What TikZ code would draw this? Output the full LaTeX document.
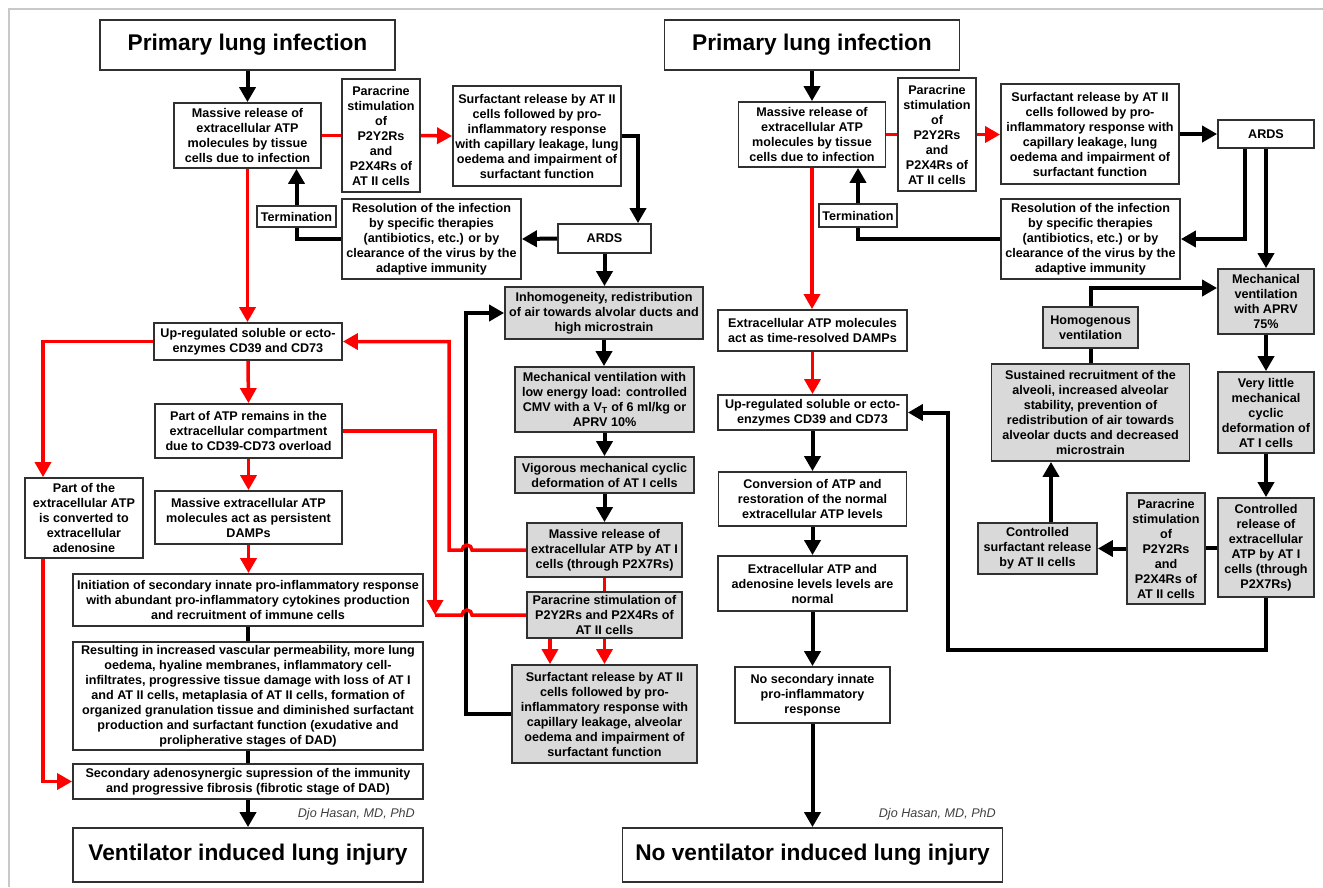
\documentclass[tikz,border=0pt]{standalone}
\usepackage{fontspec}
\setmainfont{Liberation Sans}
\usetikzlibrary{arrows.meta}
\definecolor{boxc}{HTML}{303030}
\definecolor{grayfill}{HTML}{D9D9D9}
\definecolor{framec}{HTML}{C8C8C8}
\definecolor{sigc}{HTML}{404040}
\newcommand\myBody{\fontsize{12.6}{15}\selectfont\bfseries}
\newcommand\myTitle{\fontsize{22.7}{26}\selectfont\bfseries}
\newcommand\mySig{\fontsize{12.6}{15}\selectfont\itshape}
\tikzset{
  box/.style={draw=boxc, line width=1.8pt, fill=white, align=center, inner sep=0pt, font=\myBody},
  gbox/.style={box, fill=grayfill},
  tbox/.style={box, font=\myTitle},
  arr/.style={draw=black, line width=4pt, -{Triangle[length=15pt,width=16pt]}},
  ln/.style={draw=black, line width=4pt},
  rarr/.style={draw=red, line width=3.5pt, -{Triangle[length=15pt,width=16pt]}},
  rln/.style={draw=red, line width=3.5pt},
  sig/.style={font=\mySig, text=sigc, anchor=east, inner sep=0pt}
}
\begin{document}
\begin{tikzpicture}[x=1pt,y=-1pt]
\useasboundingbox (0,0) rectangle (1323,887);
\fill[white] (0,0) rectangle (1323,887);
\draw[framec, line width=2pt] (9,887) -- (9,9) -- (1323,9);

% ---------------- left side ----------------
\node[tbox, minimum width=295pt, minimum height=50pt] (Ltitle) at (247.5,45) {Primary lung infection};
\node[box, minimum width=147pt, minimum height=65pt] (Lmass) at (247.5,135.5) {Massive release of\\extracellular ATP\\molecules by tissue\\cells due to infection};
\node[box, minimum width=78pt, minimum height=113pt] (Lpara) at (381,135.5) {Paracrine\\stimulation\\of\\P2Y2Rs\\and\\P2X4Rs of\\AT II cells};
\node[box, minimum width=168pt, minimum height=100pt] (Lsurf) at (537,136) {Surfactant release by AT II\\cells followed by pro-\\inflammatory response\\with capillary leakage, lung\\oedema and impairment of\\surfactant function};
\node[box, minimum width=93pt, minimum height=29pt] (Lards) at (604.5,238.5) {ARDS};
\node[box, minimum width=179pt, minimum height=80pt] (Lres) at (431.5,239) {Resolution of the infection\\by specific therapies\\(antibiotics, etc.) or by\\clearance of the virus by the\\adaptive immunity};
\node[box, minimum width=79pt, minimum height=21pt] (Lterm) at (296.5,216.5) {Termination};
\node[box, minimum width=188pt, minimum height=37pt] (Lup) at (248,341.5) {Up-regulated soluble or ecto-\\enzymes CD39 and CD73};
\node[box, minimum width=187pt, minimum height=54pt] (Lpart) at (248.5,431) {Part of ATP remains in the\\extracellular compartment\\due to CD39-CD73 overload};
\node[box, minimum width=118pt, minimum height=80pt] (Lconv) at (84,518) {Part of the\\extracellular ATP\\is converted to\\extracellular\\adenosine};
\node[box, minimum width=187pt, minimum height=53pt] (Ldamp) at (248.5,517.5) {Massive extracellular ATP\\molecules act as persistent\\DAMPs};
\node[box, minimum width=350pt, minimum height=52pt] (Linit) at (248,600) {Initiation of secondary innate pro-inflammatory response\\with abundant pro-inflammatory cytokines production\\and recruitment of immune cells};
\node[box, minimum width=350pt, minimum height=108pt] (Lresu) at (248,696) {Resulting in increased vascular permeability, more lung\\oedema, hyaline membranes, inflammatory cell-\\infiltrates, progressive tissue damage with loss of AT I\\and AT II cells, metaplasia of AT II cells, formation of\\organized granulation tissue and diminished surfactant\\production and surfactant function (exudative and\\prolipherative stages of DAD)};
\node[box, minimum width=350pt, minimum height=35pt] (Lsec) at (248,781.5) {Secondary adenosynergic supression of the immunity\\and progressive fibrosis (fibrotic stage of DAD)};
\node[tbox, minimum width=350pt, minimum height=54pt] (Lvili) at (248,855) {Ventilator induced lung injury};
\node[sig] (Lsig) at (415,814) {Djo Hasan, MD, PhD};

% grey column
\node[gbox, minimum width=198pt, minimum height=52pt] (Ginh) at (604,313) {Inhomogeneity, redistribution\\of air towards alvolar ducts and\\high microstrain};
\node[gbox, minimum width=179pt, minimum height=65pt] (Gmech) at (604.5,399.5) {Mechanical ventilation with\\low energy load: controlled\\CMV with a V\textsubscript{T} of 6 ml/kg or\\APRV 10\%};
\node[gbox, minimum width=179pt, minimum height=36pt] (Gvig) at (604.5,475) {Vigorous mechanical cyclic\\deformation of AT I cells};
\node[gbox, minimum width=155pt, minimum height=54pt] (Gmass) at (604.5,550) {Massive release of\\extracellular ATP by AT I\\cells (through P2X7Rs)};
\node[gbox, minimum width=155pt, minimum height=46pt] (Gpara) at (604.5,615) {Paracrine stimulation of\\P2Y2Rs and P2X4Rs of\\AT II cells};
\node[gbox, minimum width=185pt, minimum height=98pt] (Gsurf) at (604.5,714) {Surfactant release by AT II\\cells followed by pro-\\inflammatory response with\\capillary leakage, alveolar\\oedema and impairment of\\surfactant function};

% left connectors
\draw[arr] (Ltitle.south) -- (Lmass.north);
\draw[rln] (Lmass.east) -- (Lpara.west);
\draw[rarr] (Lpara.east) -- (Lsurf.west);
\draw[arr] (Lsurf.east) -| ([xshift=33.5pt]Lards.north);
\draw[arr] (Lards.west) -- (Lres.east);
\draw[ln] (Lres.west) -| (Lterm.south);
\draw[arr] (Lterm.north) -- (Lterm.north |- Lmass.south);
\draw[arr] (Lards.south) -- (Lards.south |- Ginh.north);
\draw[arr] (Ginh.south) -- (Ginh.south |- Gmech.north);
\draw[arr] (Gmech.south) -- (Gvig.north);
\draw[arr] (Gvig.south) -- (Gmass.north);
\draw[arr] (Gsurf.west) -- ++(-45,0) |- (Ginh.west);
\draw[rln] (Gmass.south) -- (Gpara.north);
\draw[rarr] ([xshift=-54.5pt]Gpara.south) -- ([xshift=-54.5pt]Gsurf.north);
\draw[rarr] (Gpara.south) -- (Gsurf.north);
\draw[rarr] (Lmass.south) -- (Lmass.south |- Lup.north);
\draw[rarr] (Lup.west) -| ([xshift=-41pt]Lconv.north);
\draw[rarr] ([xshift=-41pt]Lconv.south) |- (Lsec.west);
\draw[rarr] (Lup.south) -- (Lpart.north);
\draw[rarr] (Lpart.south) -- (Ldamp.north);
\draw[rarr] (Ldamp.south) -- (Ldamp.south |- Linit.north);
\draw[ln] (Linit.south) -- (Lresu.north);
\draw[ln] (Lresu.south) -- (Lsec.north);
\draw[arr] (Lsec.south) -- (Lvili.north);
\draw[rarr] (Gmass.west) -- (472,550) arc[start angle=0,end angle=180,radius=5pt] -- (449,550) |- (Lup.east);
\draw[rln] (Gpara.west) -- (472,615) arc[start angle=0,end angle=180,radius=5pt] -- (435,615);
\coordinate (Ljoin) at (435,615);
\draw[rarr] (Lpart.east) -| (Ljoin);

% ---------------- right side ----------------
\node[tbox, minimum width=295pt, minimum height=50pt] (Rtitle) at (812,45) {Primary lung infection};
\node[box, minimum width=147pt, minimum height=65pt] (Rmass) at (812,134.5) {Massive release of\\extracellular ATP\\molecules by tissue\\cells due to infection};
\node[box, minimum width=78pt, minimum height=113pt] (Rpara) at (937,134.5) {Paracrine\\stimulation\\of\\P2Y2Rs\\and\\P2X4Rs of\\AT II cells};
\node[box, minimum width=178pt, minimum height=100pt] (Rsurf) at (1090,134) {Surfactant release by AT II\\cells followed by pro-\\inflammatory response with\\capillary leakage, lung\\oedema and impairment of\\surfactant function};
\node[box, minimum width=96pt, minimum height=28pt] (Rards) at (1266,134) {ARDS};
\node[box, minimum width=179pt, minimum height=80pt] (Rres) at (1090.5,239) {Resolution of the infection\\by specific therapies\\(antibiotics, etc.) or by\\clearance of the virus by the\\adaptive immunity};
\node[box, minimum width=78pt, minimum height=23pt] (Rterm) at (858,215.5) {Termination};
\node[box, minimum width=189pt, minimum height=41pt] (Rext) at (812.5,330.5) {Extracellular ATP molecules\\act as time-resolved DAMPs};
\node[box, minimum width=189pt, minimum height=35pt] (Rup) at (812.5,412.5) {Up-regulated soluble or ecto-\\enzymes CD39 and CD73};
\node[box, minimum width=188pt, minimum height=54pt] (Rconv) at (812.5,499) {Conversion of ATP and\\restoration of the normal\\extracellular ATP levels};
\node[box, minimum width=189pt, minimum height=55pt] (Rnorm) at (812.5,583.5) {Extracellular ATP and\\adenosine levels levels are\\normal};
\node[box, minimum width=155pt, minimum height=56pt] (Rnosec) at (812.5,695) {No secondary innate\\pro-inflammatory\\response};
\node[tbox, minimum width=380pt, minimum height=54pt] (Rvili) at (812.5,855) {No ventilator induced lung injury};
\node[sig] (Rsig) at (996,814) {Djo Hasan, MD, PhD};
\node[gbox, minimum width=96pt, minimum height=65pt] (Raprv) at (1266,301.5) {Mechanical\\ventilation\\with APRV\\75\%};
\node[gbox, minimum width=95pt, minimum height=41pt] (Rhomo) at (1090.5,327.5) {Homogenous\\ventilation};
\node[gbox, minimum width=198pt, minimum height=97pt] (Rsust) at (1090.5,412.5) {Sustained recruitment of the\\alveoli, increased alveolar\\stability, prevention of\\redistribution of air towards\\alveolar ducts and decreased\\microstrain};
\node[gbox, minimum width=96pt, minimum height=81pt] (Rvery) at (1266,412.5) {Very little\\mechanical\\cyclic\\deformation of\\AT I cells};
\node[gbox, minimum width=96pt, minimum height=99pt] (Rctrl) at (1266,547.5) {Controlled\\release of\\extracellular\\ATP by AT I\\cells (through\\P2X7Rs)};
\node[gbox, minimum width=78pt, minimum height=111pt] (Rgpara) at (1166,548.5) {Paracrine\\stimulation\\of\\P2Y2Rs\\and\\P2X4Rs of\\AT II cells};
\node[gbox, minimum width=119pt, minimum height=51pt] (Rcsurf) at (1037.5,548.5) {Controlled\\surfactant release\\by AT II cells};

% right connectors
\draw[arr] (Rtitle.south) -- (Rmass.north);
\draw[rln] (Rmass.east) -- (Rpara.west);
\draw[rarr] (Rpara.east) -- (Rpara.east -| Rsurf.west);
\draw[arr] (Rsurf.east) -- (Rards.west);
\draw[arr] ([xshift=-21pt]Rards.south) |- (Rres.east);
\draw[arr] (Rards.south) -- (Raprv.north);
\draw[ln] (Rres.west) -| (Rterm.south);
\draw[arr] (Rterm.north) -- (Rterm.north |- Rmass.south);
\draw[rarr] (Rmass.south) -- (Rmass.south |- Rext.north);
\draw[rarr] (Rext.south) -- (Rup.north);
\draw[arr] (Rup.south) -- (Rconv.north);
\draw[arr] (Rconv.south) -- (Rnorm.north);
\draw[arr] (Rnorm.south) -- (Rnosec.north);
\draw[arr] (Rnosec.south) -- (Rvili.north);
\draw[arr] (Raprv.south) -- (Rvery.north);
\draw[arr] (Rvery.south) -- (Rctrl.north);
\draw[ln] (Rctrl.west) -- (Rctrl.west -| Rgpara.east);
\draw[arr] (Rgpara.west) -- (Rgpara.west -| Rcsurf.east);
\draw[arr] ([xshift=13.5pt]Rcsurf.north) -- ([xshift=13.5pt]Rcsurf.north |- Rsust.south);
\draw[ln] (Rsust.north) -- (Rhomo.south);
\draw[arr] (Rhomo.north) |- ([yshift=13.5pt]Raprv.west);
\coordinate (Rbend) at (948,650);
\draw[arr] (Rctrl.south) |- (Rbend) |- (Rup.east);
\end{tikzpicture}
\end{document}
